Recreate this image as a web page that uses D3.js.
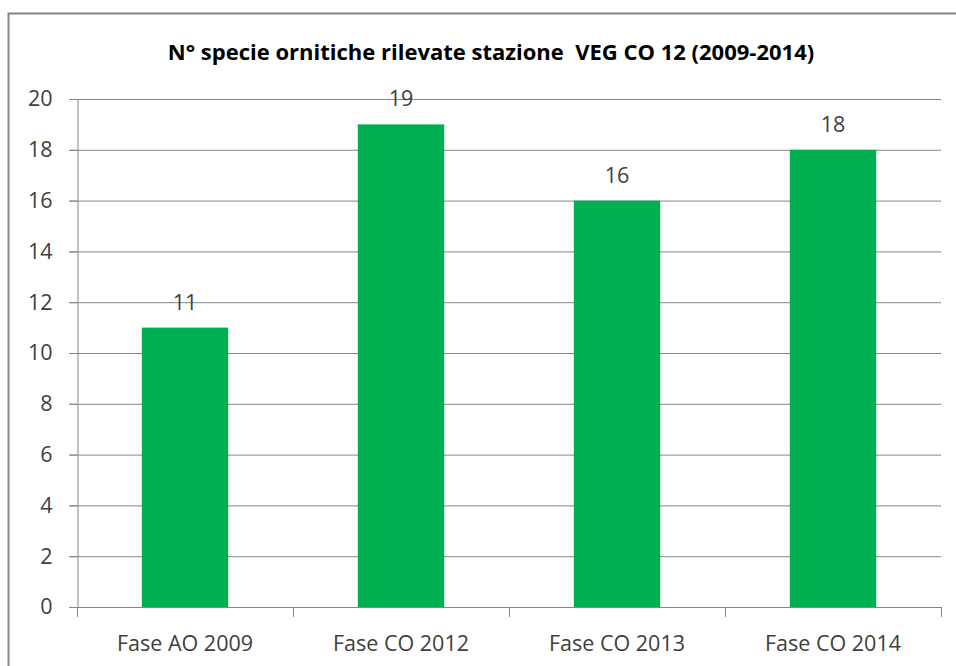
<!DOCTYPE html>
<html><head><meta charset="utf-8">
<script src="https://cdn.jsdelivr.net/npm/d3@7"></script>
<style>body{margin:0;background:#fff;} svg{display:block;}</style>
</head><body>
<script>
const categories = ["Fase AO 2009", "Fase CO 2012", "Fase CO 2013", "Fase CO 2014"];
const values = [11, 19, 16, 18];
const yTicks = [0, 2, 4, 6, 8, 10, 12, 14, 16, 18, 20];
const title = "N° specie ornitiche rilevate stazione  VEG CO 12 (2009-2014)";

const W = 956, H = 666;
const svg = d3.select("body").append("svg").attr("width", W).attr("height", H);
const font = "'Open Sans', 'Liberation Sans', sans-serif";
const fs = 21.5;

svg.append("rect").attr("x", 8.5).attr("y", 13.5).attr("width", 1000).attr("height", 1000)
  .attr("fill", "#fff").attr("stroke", "#868686").attr("stroke-width", 2);

const m = {left: 77, right: 941, top: 99, bottom: 607};
const x = d3.scaleBand().domain(categories).range([m.left, m.right]).paddingInner(0.6).paddingOuter(0.3);
const xb = d3.scaleBand().domain(categories).range([m.left, m.right]);
const y = d3.scaleLinear().domain([0, 20]).range([m.bottom, m.top]);

// gridlines
svg.append("g").selectAll("line").data(yTicks).join("line")
  .attr("x1", m.left - 8).attr("x2", m.right)
  .attr("y1", d => y(d) + 0.5).attr("y2", d => y(d) + 0.5)
  .attr("stroke", "#868686").attr("stroke-width", 1);

// y axis
const ya = svg.append("g").attr("transform", `translate(${m.left + 0.5},0)`)
  .call(d3.axisLeft(y).tickValues(yTicks).tickSize(8).tickPadding(17));
ya.select(".domain").attr("stroke", "#868686");
ya.selectAll(".tick line").attr("stroke", "#868686");
ya.selectAll(".tick text").attr("font-family", font).attr("font-size", fs).attr("fill", "#404040");

// x axis
const xa = svg.append("g").attr("transform", `translate(0,${m.bottom + 0.5})`)
  .call(d3.axisBottom(xb).tickSize(0).tickPadding(28));
xa.select(".domain").attr("stroke", "#868686").attr("d", `M${m.left},0H${m.right}`);
xa.selectAll(".tick text").attr("font-family", font).attr("font-size", fs).attr("fill", "#404040");
const bounds = categories.map(c => xb(c)).concat([xb(categories[categories.length-1]) + xb.bandwidth()]);
svg.append("g").selectAll("line").data(bounds).join("line")
  .attr("x1", d => Math.round(d) + 0.5).attr("x2", d => Math.round(d) + 0.5)
  .attr("y1", m.bottom).attr("y2", m.bottom + 10)
  .attr("stroke", "#868686");

// bars
svg.append("g").selectAll("rect").data(values).join("rect")
  .attr("x", (d, i) => x(categories[i]))
  .attr("width", x.bandwidth())
  .attr("y", d => y(d))
  .attr("height", d => y(0) - y(d))
  .attr("fill", "#00B050");

// labels
svg.append("g").selectAll("text").data(values).join("text")
  .attr("x", (d, i) => x(categories[i]) + x.bandwidth() / 2)
  .attr("y", d => y(d) - 18)
  .attr("text-anchor", "middle")
  .attr("font-family", font).attr("font-size", fs).attr("fill", "#404040")
  .text(d => d);

svg.append("text").attr("x", 491).attr("y", 60).attr("text-anchor", "middle")
  .attr("font-family", font).attr("font-size", 22).attr("font-weight", "bold").attr("fill", "#000")
  .style("white-space", "pre")
  .text(title);
</script>
</body></html>
